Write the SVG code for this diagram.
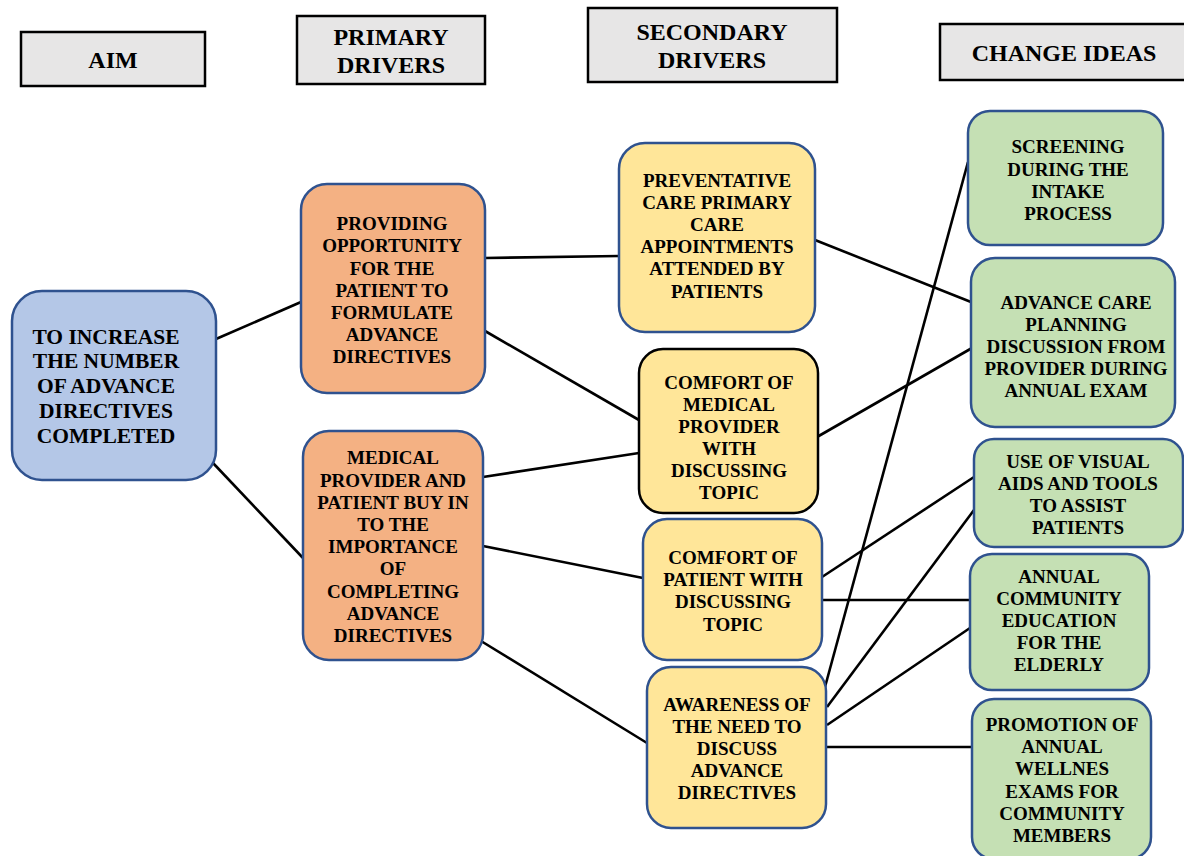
<svg xmlns="http://www.w3.org/2000/svg" width="1184" height="856" viewBox="0 0 1184 856">
  <style>
    text { font-family: "Liberation Serif", "Times New Roman", serif; font-weight: bold; fill: #000; text-anchor: middle; }
    .hdr rect { fill: #e7e6e6; stroke: #000; stroke-width: 2.5; }
    .hdr text { font-size: 24px; }
    .node text { font-size: 19px; }
    .aim rect { fill: #b4c7e7; stroke: #2f528f; stroke-width: 2.5; }
    .aim text { font-size: 21.5px; }
    .pri rect { fill: #f4b183; stroke: #2f528f; stroke-width: 2.5; }
    .sec rect { fill: #ffe699; stroke: #2f528f; stroke-width: 2.5; }
    .sec.dark rect { stroke: #000; }
    .idea rect { fill: #c5e0b4; stroke: #2f528f; stroke-width: 2.5; }
    #connectors line { stroke: #000; stroke-width: 2.6; }
  </style>

  <!-- column headers -->
  <g id="hdr-aim" class="hdr">
    <rect x="21" y="32" width="184" height="54"/>
    <text x="113" y="68">AIM</text>
  </g>
  <g id="hdr-primary" class="hdr">
    <rect x="297" y="16" width="188" height="68"/>
    <text x="391" y="45">PRIMARY</text>
    <text x="391" y="73">DRIVERS</text>
  </g>
  <g id="hdr-secondary" class="hdr">
    <rect x="588" y="8" width="249" height="74"/>
    <text x="712" y="40">SECONDARY</text>
    <text x="712" y="68">DRIVERS</text>
  </g>
  <g id="hdr-change" class="hdr">
    <rect x="940" y="24" width="252" height="56"/>
    <text x="1064" y="61">CHANGE IDEAS</text>
  </g>

  <!-- connectors -->
  <g id="connectors">
    <line x1="216" y1="339" x2="301" y2="302"/>
    <line x1="213" y1="463" x2="303" y2="558"/>
    <line x1="485" y1="258" x2="619" y2="256"/>
    <line x1="485" y1="331" x2="639" y2="420"/>
    <line x1="483" y1="477" x2="639" y2="453"/>
    <line x1="483" y1="546" x2="643" y2="578"/>
    <line x1="481" y1="641" x2="647" y2="743"/>
    <line x1="815" y1="240" x2="971" y2="302"/>
    <line x1="817" y1="437" x2="972" y2="348"/>
    <line x1="822" y1="577" x2="974" y2="477"/>
    <line x1="822" y1="600" x2="970" y2="600"/>
    <line x1="825" y1="687" x2="968" y2="162"/>
    <line x1="827" y1="707" x2="974" y2="510"/>
    <line x1="827" y1="725" x2="970" y2="628"/>
    <line x1="826" y1="747" x2="972" y2="747"/>
  </g>

  <!-- aim -->
  <g id="aim" class="node aim">
    <rect x="12" y="291" width="204" height="189" rx="30"/>
    <text x="106" y="344">TO INCREASE</text>
    <text x="106" y="368">THE NUMBER</text>
    <text x="106" y="393">OF ADVANCE</text>
    <text x="106" y="418">DIRECTIVES</text>
    <text x="106" y="443">COMPLETED</text>
  </g>

  <!-- primary drivers -->
  <g id="primary-opportunity" class="node pri">
    <rect x="301" y="184" width="184" height="209" rx="26"/>
    <text x="392" y="230">PROVIDING</text>
    <text x="392" y="252">OPPORTUNITY</text>
    <text x="392" y="275">FOR THE</text>
    <text x="392" y="297">PATIENT TO</text>
    <text x="392" y="319">FORMULATE</text>
    <text x="392" y="341">ADVANCE</text>
    <text x="392" y="363">DIRECTIVES</text>
  </g>
  <g id="primary-buyin" class="node pri">
    <rect x="303" y="431" width="180" height="229" rx="26"/>
    <text x="393" y="464">MEDICAL</text>
    <text x="393" y="487">PROVIDER AND</text>
    <text x="393" y="509">PATIENT BUY IN</text>
    <text x="393" y="531">TO THE</text>
    <text x="393" y="553">IMPORTANCE</text>
    <text x="393" y="575">OF</text>
    <text x="393" y="598">COMPLETING</text>
    <text x="393" y="620">ADVANCE</text>
    <text x="393" y="642">DIRECTIVES</text>
  </g>

  <!-- secondary drivers -->
  <g id="secondary-preventative" class="node sec">
    <rect x="619" y="143" width="196" height="189" rx="26"/>
    <text x="717" y="187">PREVENTATIVE</text>
    <text x="717" y="209">CARE PRIMARY</text>
    <text x="717" y="231">CARE</text>
    <text x="717" y="253">APPOINTMENTS</text>
    <text x="717" y="275">ATTENDED BY</text>
    <text x="717" y="298">PATIENTS</text>
  </g>
  <g id="secondary-provider-comfort" class="node sec dark">
    <rect x="639" y="349" width="179" height="164" rx="24"/>
    <text x="729" y="389">COMFORT OF</text>
    <text x="729" y="411">MEDICAL</text>
    <text x="729" y="433">PROVIDER</text>
    <text x="729" y="455">WITH</text>
    <text x="729" y="477">DISCUSSING</text>
    <text x="729" y="499">TOPIC</text>
  </g>
  <g id="secondary-patient-comfort" class="node sec">
    <rect x="643" y="519" width="179" height="141" rx="24"/>
    <text x="733" y="564">COMFORT OF</text>
    <text x="733" y="586">PATIENT WITH</text>
    <text x="733" y="608">DISCUSSING</text>
    <text x="733" y="631">TOPIC</text>
  </g>
  <g id="secondary-awareness" class="node sec">
    <rect x="647" y="667" width="179" height="161" rx="24"/>
    <text x="737" y="711">AWARENESS OF</text>
    <text x="737" y="733">THE NEED TO</text>
    <text x="737" y="755">DISCUSS</text>
    <text x="737" y="777">ADVANCE</text>
    <text x="737" y="799">DIRECTIVES</text>
  </g>

  <!-- change ideas -->
  <g id="idea-screening" class="node idea">
    <rect x="968" y="111" width="195" height="134" rx="22"/>
    <text x="1068" y="153">SCREENING</text>
    <text x="1068" y="176">DURING THE</text>
    <text x="1068" y="198">INTAKE</text>
    <text x="1068" y="220">PROCESS</text>
  </g>
  <g id="idea-acp" class="node idea">
    <rect x="971" y="258" width="204" height="169" rx="24"/>
    <text x="1076" y="309">ADVANCE CARE</text>
    <text x="1076" y="331">PLANNING</text>
    <text x="1076" y="353">DISCUSSION FROM</text>
    <text x="1076" y="375">PROVIDER DURING</text>
    <text x="1076" y="397">ANNUAL EXAM</text>
  </g>
  <g id="idea-visual" class="node idea">
    <rect x="974" y="439" width="209" height="108" rx="20"/>
    <text x="1078" y="468">USE OF VISUAL</text>
    <text x="1078" y="490">AIDS AND TOOLS</text>
    <text x="1078" y="512">TO ASSIST</text>
    <text x="1078" y="534">PATIENTS</text>
  </g>
  <g id="idea-education" class="node idea">
    <rect x="970" y="554" width="179" height="136" rx="22"/>
    <text x="1059" y="583">ANNUAL</text>
    <text x="1059" y="605">COMMUNITY</text>
    <text x="1059" y="627">EDUCATION</text>
    <text x="1059" y="649">FOR THE</text>
    <text x="1059" y="671">ELDERLY</text>
  </g>
  <g id="idea-wellness" class="node idea">
    <rect x="972" y="699" width="179" height="160" rx="22"/>
    <text x="1062" y="731">PROMOTION OF</text>
    <text x="1062" y="753">ANNUAL</text>
    <text x="1062" y="775">WELLNES</text>
    <text x="1062" y="798">EXAMS FOR</text>
    <text x="1062" y="820">COMMUNITY</text>
    <text x="1062" y="842">MEMBERS</text>
  </g>
</svg>
